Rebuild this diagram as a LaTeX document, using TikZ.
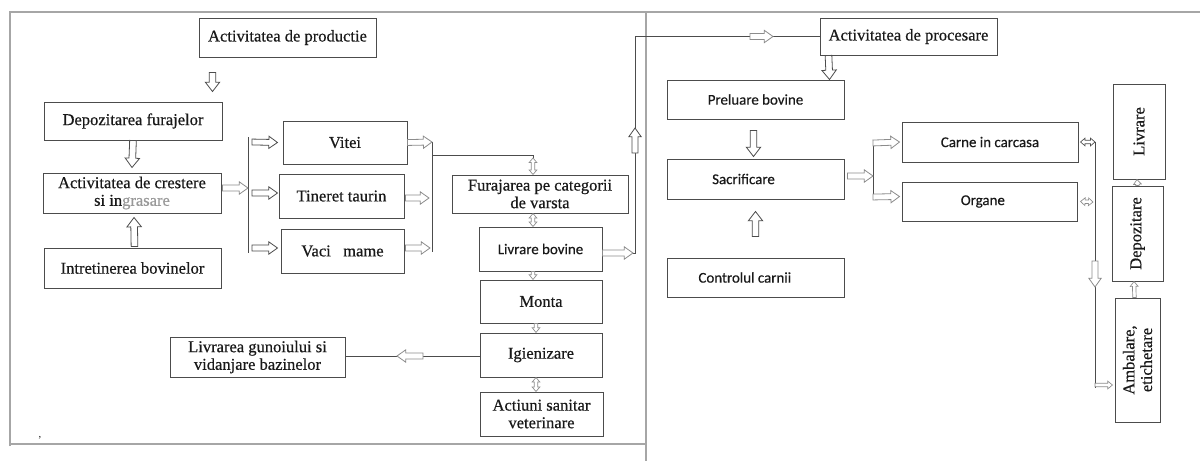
\documentclass[tikz,border=0pt]{standalone}
\usepackage{fontspec}
\setmainfont{Liberation Serif}
\newfontfamily\serf{Liberation Serif}[FakeBold=0.5]
\newfontfamily\sansf{Carlito}[FakeBold=0.4]
\usetikzlibrary{calc}
\definecolor{ln}{gray}{0.3}
\definecolor{lnl}{gray}{0.55}
\definecolor{txt}{gray}{0.1}
\newcommand\mkbox[7][]{\node[box,#1,minimum width={(#5-#3)*0.75pt},minimum height={(#6-#4)*0.75pt}] (#2) at ({(#3+#5)/2},{(#4+#6)/2}) {#7};}
\newcommand\mkrbox[7][]{\node[box,rotate=90,#1,minimum width={(#6-#4)*0.75pt},minimum height={(#5-#3)*0.75pt}] (#2) at ({(#3+#5)/2},{(#4+#6)/2}) {#7};}
\tikzset{
  box/.style={draw=ln, line width=0.75pt, inner sep=0pt, align=center, text=txt,
    font=\serf\fontsize{12.4}{13.2}\selectfont},
  sbox/.style={font=\sansf\fontsize{11.2}{13}\selectfont},
  conn/.style={draw=ln, line width=0.6pt},
  frame/.style={draw=gray!70, line width=0.9pt},
  arrow geom/.code n args={3}{\def\arrAw{#1}\def\arrAW{#2}\def\arrAh{#3}},
  sarrow/.style={draw=ln, fill=white, line width=0.6pt, line join=miter,
    to path={let \p1=(\tikztostart), \p2=(\tikztotarget),
      \n1={atan2(\y2-\y1,\x2-\x1)}, \n2={veclen(\x2-\x1,\y2-\y1)} in
      [shift={(\p1)}, rotate=\n1]
      (0pt,\arrAw) -- ({\n2*1pt-\arrAh},\arrAw) -- ({\n2*1pt-\arrAh},\arrAW)
      -- ({\n2*1pt},0pt) -- ({\n2*1pt-\arrAh},-\arrAW) -- ({\n2*1pt-\arrAh},-\arrAw)
      -- (0pt,-\arrAw) -- cycle}},
  darrow/.style={draw=ln, fill=white, line width=0.5pt, line join=miter,
    to path={let \p1=(\tikztostart), \p2=(\tikztotarget),
      \n1={atan2(\y2-\y1,\x2-\x1)}, \n2={veclen(\x2-\x1,\y2-\y1)} in
      [shift={(\p1)}, rotate=\n1]
      (0pt,0pt) -- (\arrAh,\arrAW) -- (\arrAh,\arrAw) -- ({\n2*1pt-\arrAh},\arrAw)
      -- ({\n2*1pt-\arrAh},\arrAW) -- ({\n2*1pt},0pt) -- ({\n2*1pt-\arrAh},-\arrAW)
      -- ({\n2*1pt-\arrAh},-\arrAw) -- (\arrAh,-\arrAw) -- (\arrAh,-\arrAW) -- cycle}},
  bigA/.style={arrow geom={2.5pt}{5.4pt}{7pt}, sarrow},
  medA/.style={arrow geom={2.2pt}{4.6pt}{6.5pt}, sarrow},
  smA/.style={arrow geom={1.3pt}{2.9pt}{3.6pt}, sarrow, line width=0.5pt},
  dblA/.style={arrow geom={1.3pt}{2.9pt}{3.4pt}, darrow},
  light/.style={draw=lnl}
}
\begin{document}
\begin{tikzpicture}[x=0.75pt,y=-0.75pt]
\useasboundingbox[fill=white] (0,0) rectangle (1200,461);
% frames
\draw[frame] (10,446) -- (10,12) -- (1200,12);
\draw[frame] (646,12) -- (646,461);
\draw[frame] (10,444) -- (646,444);
\node[font=\fontsize{8}{8}\selectfont, text=txt, inner sep=0pt] (comma) at (40,438) {,};
% left panel boxes
\mkbox{prod}{199}{18}{376}{57}{Activitatea de productie}
\mkbox{dep}{44}{102}{222}{140}{Depozitarea furajelor}
\mkbox{crest}{43}{173}{221}{213}{Activitatea de crestere\\si in{\color{black!40}grasare}}
\mkbox{intr}{44}{248}{221}{288}{Intretinerea bovinelor}
\mkbox{vitei}{283}{121}{407}{164}{Vitei}
\mkbox{tin}{279}{174}{404}{218}{Tineret taurin}
\mkbox{vaci}{281}{229}{404}{273}{Vaci\ \ \ mame}
\mkbox{fur}{452}{175}{628}{213}{Furajarea pe categorii\\de varsta}
\mkbox[sbox]{livb}{479}{227}{602}{271}{Livrare bovine}
\mkbox{monta}{480}{280}{602}{323}{Monta}
\mkbox{igien}{480}{333}{602}{377}{Igienizare}
\mkbox{act}{480}{392}{603}{436}{Actiuni sanitar\\veterinare}
\mkbox{gun}{170}{337}{345}{377}{Livrarea gunoiului si\\vidanjare bazinelor}
% right panel boxes
\mkbox{proc}{820}{18}{997}{55}{Activitatea de procesare}
\mkbox[sbox]{prel}{667}{80}{844}{119}{Preluare bovine}
\mkbox[sbox]{sacr}{667}{159}{844}{199}{Sacrificare\hspace*{18pt}}
\mkbox[sbox]{ctrl}{667}{258}{844}{297}{Controlul carnii\hspace*{16pt}}
\mkbox[sbox]{carne}{902}{122}{1078}{162}{Carne in carcasa}
\mkbox[sbox]{org}{902}{182}{1077}{221}{Organe\hspace*{10pt}}
\mkrbox{livr}{1113}{84}{1165}{179}{Livrare}
\mkrbox{depz}{1112}{186}{1163}{281}{Depozitare}
\mkrbox{amb}{1115}{298}{1160}{422}{Ambalare,\\etichetare}
% left panel connectors
\coordinate (bl1) at (248,137);
\coordinate (bl2) at (248,253);
\draw[conn] (bl1) -- (bl2);
\coordinate (br1) at (432,142);
\coordinate (br2) at (432,252);
\draw[conn] (br1) -- (br2);
\draw[conn] (432,155) -- (533,155) -- (533,158);
\draw[bigA] ($(prod.south west)+(14,15)$) to ($(prod.south west)+(14,34)$);
\draw[bigA] (dep.south) to ($(crest.north)+(0,-5)$);
\draw[bigA] ($(intr.north)+(2,-1)$) to ($(crest.south)+(2,4)$);
\draw[medA, light] ($(crest.east)+(1,-5)$) to (248,188);
\draw[medA] (252,142) to ($(vitei.west)+(-5,0)$);
\draw[medA] (252,193) to ($(tin.west)+(-1,-3)$);
\draw[medA] (252,248) to ($(vaci.west)+(-3,-3)$);
\draw[medA, light] ($(vitei.east)+(0,0)$) to (br1);
\draw[medA, light] ($(tin.east)+(1,2)$) to (429,198);
\draw[medA, light] ($(vaci.east)+(1,-3)$) to (430,248);
\draw[dblA, light] (533,158) to (fur.north -| 533,0);
\draw[dblA, light] (fur.south -| 533,0) to (livb.north -| 533,0);
\draw[smA, light] (livb.south -| 533,0) to (monta.north -| 533,0);
\draw[smA, light] (monta.south -| 536,0) to (igien.north -| 536,0);
\draw[dblA, light] (igien.south -| 536,0) to (act.north -| 536,0);
\draw[conn] (igien.west |- 0,356) -- (gun.east |- 0,356);
\draw[medA, light] (423,356) to (397,356);
\draw[conn] (633,253) -- (635,253) -- (635,36.5) -- (proc.west);
\draw[medA, light] ($(livb.east)+(0,4)$) to (633,253);
\draw[medA] (635,153) to (635,128);
\draw[medA, light] (750,36.5) to (773,36.5);
% right panel connectors
\draw[bigA] ($(proc.south west)+(9,0)$) to ($(prel.north east)+(-15,0)$);
\draw[bigA] ($(prel.south)+(-2,11)$) to ($(sacr.north)+(-2,-2)$);
\draw[bigA] ($(ctrl.north)+(0,-21)$) to ($(sacr.south)+(0,12)$);
\coordinate (bs1) at (873,143);
\coordinate (bs2) at (873,200);
\draw[conn] (bs1) -- (bs2);
\draw[medA, light] ($(sacr.east)+(3,-3)$) to (873,176);
\draw[medA, light] (bs1) to ($(carne.west)+(-2,0)$);
\draw[medA, light] (873,197) to ($(org.west)+(-2,-5)$);
\coordinate (bv1) at (1095,142);
\coordinate (bv2) at (1095,388);
\draw[conn] (bv1) -- (bv2);
\draw[dblA] ($(carne.east)+(2,0)$) to (bv1);
\draw[dblA, light] ($(org.east)+(3,0)$) to (1093,202);
\draw[medA, light] (1095,261) to (1095,287);
\draw[smA, light] (1095,385) to ($(amb.north)+(-2,25)$);
\draw[smA, light] ($(amb.east)+(-3,0)$) to ($(depz.west)+(-3.5,0)$);
\draw[smA, light] ($(depz.east)+(0,0)$) to ($(livr.west)+(-2,0)$);
\end{tikzpicture}
\end{document}
